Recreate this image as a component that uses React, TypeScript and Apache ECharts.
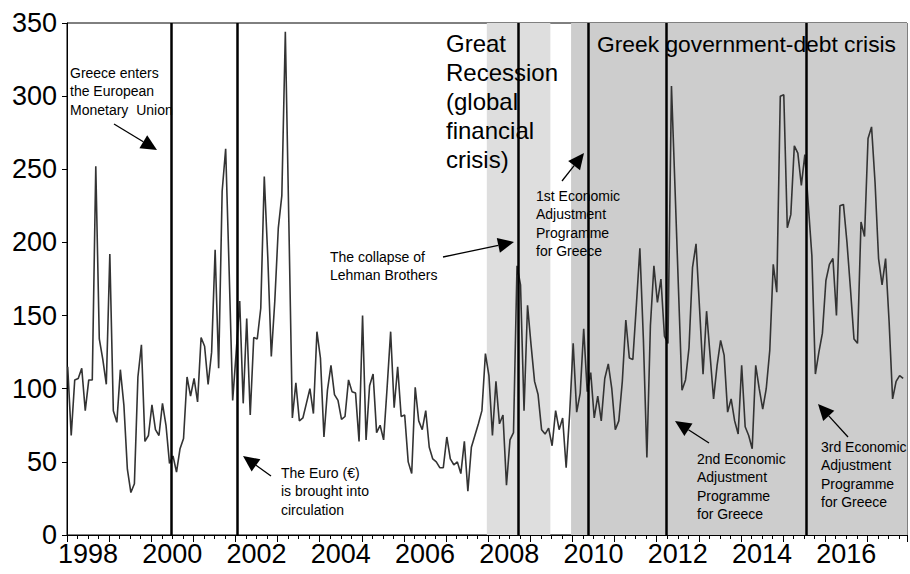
import React, { useEffect, useRef } from "react";
import * as echarts from "echarts";

// Monthly index, Jan 1998 .. Nov 2017
const START_YEAR = 1998;
const monthlyValues = [
  // 1998
  115, 68, 106, 107, 114, 85, 106, 106, 252, 134, 120, 103,
  // 1999
  192, 85, 77, 113, 89, 45, 29, 35, 108, 130, 64, 68,
  // 2000
  89, 72, 68, 90, 75, 49, 54, 43, 59, 66, 108, 95,
  // 2001
  107, 91, 135, 129, 103, 125, 195, 114, 235, 264, 180, 92,
  // 2002
  125, 160, 90, 148, 82, 135, 134, 155, 245, 190, 122, 160,
  // 2003
  210, 232, 344, 214, 80, 104, 78, 80, 90, 100, 83, 139,
  // 2004
  121, 67, 99, 116, 96, 92, 79, 81, 106, 98, 97, 64,
  // 2005
  150, 65, 102, 110, 70, 75, 65, 101, 139, 87, 115, 81,
  // 2006
  82, 50, 42, 101, 78, 72, 85, 60, 52, 50, 46, 46,
  // 2007
  67, 52, 48, 50, 42, 64, 30, 60, 68, 76, 85, 124,
  // 2008
  109, 68, 105, 76, 82, 34, 65, 70, 184, 171, 85, 157,
  // 2009
  130, 105, 96, 72, 69, 73, 61, 85, 72, 80, 46, 83,
  // 2010
  131, 84, 97, 141, 98, 111, 80, 95, 78, 107, 117, 100,
  // 2011
  72, 78, 105, 147, 121, 120, 157, 196, 134, 53, 143, 184,
  // 2012
  159, 175, 136, 131, 307, 238, 168, 99, 106, 128, 183, 199,
  // 2013
  155, 110, 153, 123, 93, 116, 133, 123, 84, 93, 78, 69,
  // 2014
  116, 74, 68, 59, 116, 100, 86, 100, 126, 185, 166, 300,
  // 2015
  301, 210, 219, 266, 261, 239, 260, 225, 191, 110, 125, 138,
  // 2016
  174, 185, 189, 150, 225, 226, 200, 168, 134, 131, 214, 204,
  // 2017
  271, 279, 241, 189, 171, 189, 146, 93, 105, 109, 107,
];

const yearTickLabels = [1998, 2000, 2002, 2004, 2006, 2008, 2010, 2012, 2014, 2016];
const yTickValues = [0, 50, 100, 150, 200, 250, 300, 350];

// event positions in months since Jan 1998
const eventLines = [29.7, 48.6, 128.5, 148.5, 170.6, 210.6];
const greatRecessionSpan = [119.6, 137.7];
const debtCrisisSpan = [143.6, 239.3];

const MONTH_OFFSET = 0.2;
const X_MAX = 239.3;

const FONT = 'Arial, "Liberation Sans", Helvetica, sans-serif';

type Note = { lines: string[]; x: number; y: number; size: number; lh: number };
const notes: Note[] = [
  { lines: ["Greece enters", "the European", "Monetary  Union"], x: 70, y: 63.5, size: 14, lh: 18.5 },
  { lines: ["The Euro (\u20ac)", "is brought into", "circulation"], x: 281, y: 463.5, size: 14, lh: 18.5 },
  { lines: ["The collapse of", "Lehman Brothers"], x: 330, y: 247.5, size: 14, lh: 18.5 },
  { lines: ["1st Economic", "Adjustment", "Programme", "for Greece"], x: 536, y: 186.5, size: 14, lh: 18.5 },
  { lines: ["2nd Economic", "Adjustment", "Programme", "for Greece"], x: 697, y: 449.5, size: 14, lh: 18.5 },
  { lines: ["3rd Economic", "Adjustment", "Programme", "for Greece"], x: 821, y: 437.5, size: 14, lh: 18.5 },
  { lines: ["Great", "Recession", "(global", "financial", "crisis)"], x: 446, y: 28.5, size: 24, lh: 29 },
  { lines: ["Greek government-debt crisis"], x: 597, y: 29, size: 22.8, lh: 29 },
];

const arrows: number[][] = [
  [114, 124, 157, 150],
  [271, 476, 243, 456],
  [443, 257, 514, 242],
  [562, 181, 584, 153],
  [709, 443, 675, 421],
  [848, 437, 818, 404],
];

function arrowGraphics(a: number[]) {
  const [x1, y1, x2, y2] = a;
  const dx = x2 - x1;
  const dy = y2 - y1;
  const len = Math.sqrt(dx * dx + dy * dy);
  const ux = dx / len;
  const uy = dy / len;
  const headLen = 16;
  const halfW = 7.5;
  const bx = x2 - ux * headLen;
  const by = y2 - uy * headLen;
  const px = -uy;
  const py = ux;
  return [
    {
      type: "line",
      shape: { x1, y1, x2: bx, y2: by },
      style: { stroke: "#000", lineWidth: 1.3 },
      z: 100,
    },
    {
      type: "polygon",
      shape: {
        points: [
          [x2, y2],
          [bx + px * halfW, by + py * halfW],
          [bx - px * halfW, by - py * halfW],
        ],
      },
      style: { fill: "#000" },
      z: 100,
    },
  ];
}

export default function App() {
  const ref = useRef<HTMLDivElement>(null);

  useEffect(() => {
    if (!ref.current) return;
    const chart = echarts.init(ref.current, undefined, { renderer: "svg" });
    const data = monthlyValues.map((v, i) => [i + MONTH_OFFSET, v]);

    const graphics: any[] = [];
    notes.forEach((n) => {
      graphics.push({
        type: "text",
        x: n.x,
        y: n.y,
        z: 100,
        style: {
          text: n.lines.join("\n"),
          fontFamily: FONT,
          fontSize: n.size,
          lineHeight: n.lh,
          fill: "#000",
          textAlign: "left",
          textVerticalAlign: "top",
        },
      });
    });
    arrows.forEach((a) => graphics.push(...arrowGraphics(a)));

    chart.setOption({
      animation: false,
      backgroundColor: "#fff",
      grid: {
        left: 67,
        right: -3,
        top: 23,
        bottom: 39,
        show: true,
        borderColor: "#000",
        borderWidth: 1,
        backgroundColor: "transparent",
      },
      xAxis: [
        {
          type: "value",
          min: 0,
          max: X_MAX,
          interval: 12,
          axisLine: { show: true, onZero: false, lineStyle: { color: "#000", width: 1 } },
          axisTick: { show: true, inside: false, length: 7, lineStyle: { color: "#000", width: 1 } },
          minorTick: { show: true, splitNumber: 4, length: 4, lineStyle: { color: "#000", width: 1 } },
          axisLabel: { show: false },
          splitLine: { show: false },
        },
        {
          type: "value",
          position: "bottom",
          min: -6,
          max: X_MAX - 6,
          interval: 6,
          axisLine: { show: false },
          axisTick: { show: false },
          splitLine: { show: false },
          axisLabel: {
            show: true,
            margin: 5,
            fontSize: 27,
            fontFamily: FONT,
            color: "#000",
            formatter: (v: number) => {
              const yr = START_YEAR + v / 12;
              return v % 24 === 0 && yearTickLabels.includes(yr) ? String(yr) : "";
            },
          },
        },
      ],
      yAxis: {
        type: "value",
        min: yTickValues[0],
        max: yTickValues[yTickValues.length - 1],
        interval: 50,
        axisLine: { show: true, lineStyle: { color: "#000", width: 1 } },
        axisTick: { show: true, inside: false, length: 5, lineStyle: { color: "#000" } },
        axisLabel: { margin: 10, fontSize: 27, fontFamily: FONT, color: "#000" },
        splitLine: { show: false },
      },
      series: [
        {
          type: "line",
          xAxisIndex: 0,
          data,
          symbol: "none",
          silent: true,
          z: 1,
          lineStyle: { opacity: 0 },
          markArea: {
            silent: true,
            data: [
              [
                { xAxis: greatRecessionSpan[0], itemStyle: { color: "#dedede" } },
                { xAxis: greatRecessionSpan[1] },
              ],
              [
                { xAxis: debtCrisisSpan[0], itemStyle: { color: "#cdcdcd" } },
                { xAxis: debtCrisisSpan[1] },
              ],
            ],
          },
        },
        {
          type: "line",
          xAxisIndex: 0,
          data,
          symbol: "none",
          silent: true,
          z: 3,
          lineStyle: { opacity: 0 },
          markLine: {
            silent: true,
            symbol: "none",
            label: { show: false },
            lineStyle: { color: "#000", width: 2.5, type: "solid" },
            data: eventLines.map((x) => ({ xAxis: x })),
          },
        },
        {
          type: "line",
          xAxisIndex: 0,
          data,
          symbol: "none",
          showSymbol: false,
          silent: true,
          z: 4,
          lineStyle: { color: "#333333", width: 1.6 },
        },
      ],
      graphic: graphics,
    });

    return () => chart.dispose();
  }, []);

  return (
    <div
      ref={ref}
      style={{ position: "fixed", left: 0, top: 0, width: 910, height: 574, background: "#fff" }}
    />
  );
}
